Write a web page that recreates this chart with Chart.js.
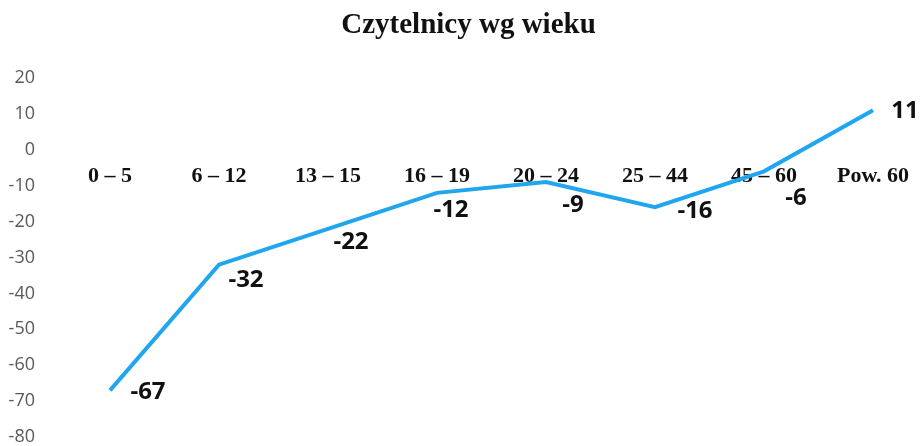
<!DOCTYPE html>
<html>
<head>
<meta charset="utf-8">
<script src="https://cdn.jsdelivr.net/npm/chart.js@4.4.1/dist/chart.umd.min.js"></script>
<style>
  html, body { margin: 0; padding: 0; background: #ffffff; }
  #wrap { width: 921px; height: 446px; }
</style>
</head>
<body>
<div id="wrap"><canvas id="c" width="921" height="446"></canvas></div>
<script>
const categories = ['0 – 5', '6 – 12', '13 – 15', '16 – 19', '20 – 24', '25 – 44', '45 – 60', 'Pow. 60'];
const readers = [-67, -32, -22, -12, -9, -16, -6, 11];
const yTicks = [20, 10, 0, -10, -20, -30, -40, -50, -60, -70, -80];
const chartTitle = 'Czytelnicy wg wieku';

// value-label offsets relative to each point (style only)
const labelOffsets = [[38, 2], [27, 15], [23, 13], [14, 17], [27, 23], [40, 4], [32, 27], [32, 1]];

const valueLabels = {
  id: 'valueLabels',
  afterLayout(chart) {
    if (chart.titleBlock) { chart.titleBlock.left += 32; chart.titleBlock.right += 32; }
  },
  afterDatasetsDraw(chart) {
    const ctx = chart.ctx;
    const meta = chart.getDatasetMeta(0);
    ctx.save();
    ctx.font = 'bold 24px "Open Sans", sans-serif';
    ctx.fillStyle = '#111111';
    ctx.textAlign = 'center';
    ctx.textBaseline = 'middle';
    meta.data.forEach((pt, i) => {
      const off = labelOffsets[i] || [20, 10];
      ctx.fillText(String(readers[i]), pt.x + off[0], pt.y + off[1]);
    });
    ctx.restore();
  }
};

new Chart(document.getElementById('c'), {
  type: 'line',
  data: {
    labels: categories,
    datasets: [{
      data: readers,
      borderColor: '#1fa6ee',
      borderWidth: 4,
      pointRadius: 0,
      tension: 0,
      fill: false
    }]
  },
  options: {
    responsive: false,
    animation: false,
    devicePixelRatio: 1,
    layout: { padding: { left: 0, right: 48, top: 0, bottom: 9 } },
    plugins: {
      legend: { display: false },
      tooltip: { enabled: false },
      title: {
        display: true,
        text: chartTitle,
        color: '#111111',
        font: { family: '"Liberation Serif", "Times New Roman", serif', size: 29, weight: 'bold' },
        padding: { top: 8, bottom: 35.2 }
      }
    },
    scales: {
      x: {
        type: 'category',
        position: { y: 0 },
        offset: false,
        grid: { display: false, drawTicks: false },
        border: { display: false },
        ticks: {
          color: '#111111',
          padding: 13.8,
          maxRotation: 0,
          autoSkip: false,
          font: { family: '"Liberation Serif", "Times New Roman", serif', size: 22, weight: 'bold' }
        },
        afterFit(scale) {
          scale.height = 0;
          scale.paddingLeft = 0; scale.paddingRight = 0; scale.paddingTop = 0; scale.paddingBottom = 0;
        }
      },
      y: {
        min: -80,
        max: 20,
        grid: { display: false, drawTicks: false },
        border: { display: false },
        afterBuildTicks(scale) { scale.ticks = yTicks.map(v => ({ value: v })); },
        afterFit(scale) {
          scale.width = 110;
          scale.paddingTop = 0; scale.paddingBottom = 0;
        },
        ticks: {
          color: '#595959',
          padding: 75,
          font: { family: '"Open Sans", sans-serif', size: 18 }
        }
      }
    }
  },
  plugins: [valueLabels]
});
</script>
</body>
</html>
